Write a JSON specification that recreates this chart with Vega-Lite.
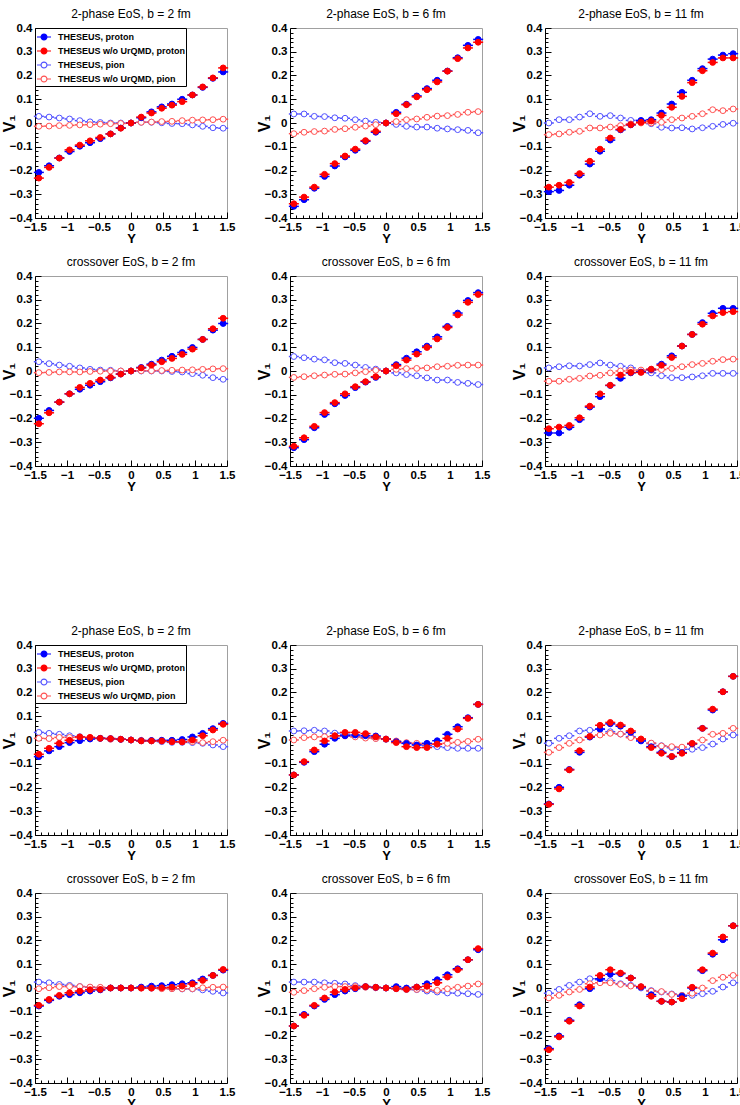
{
"$schema":"https://vega.github.io/schema/vega-lite/v6.json",
"padding":{"left":0,"top":7,"right":0,"bottom":0},
"columns":3,
"spacing":{"row":58,"column":63},
"bounds":"flush",
"resolve":{"legend":{"fill":"independent","stroke":"independent"}},
"config":{
 "font":"Liberation Sans",
 "view":{"stroke":"#a0a0a0"},
 "title":{"fontSize":12,"fontWeight":"normal","font":"Liberation Sans","color":"black","offset":1},
 "axis":{"grid":false,"labelFont":"Liberation Sans","labelFontWeight":"bold","labelFontSize":11.5,"labelColor":"black","domainColor":"black","tickColor":"black","titleFont":"Liberation Sans","titleFontWeight":"bold","titleColor":"black","labelFlush":false,"labelOverlap":false},
 "legend":{"offset":0,"padding":1,"labelFont":"Liberation Sans","labelFontWeight":"bold","labelFontSize":9,"labelColor":"black","strokeColor":"black","fillColor":"white","rowPadding":0,"labelOffset":6,"symbolStrokeWidth":1.2,"zindex":1}
},
"data":{"values":[
{"p":1,"x":-1.44,"bpr":-0.208,"rpr":-0.232,"bpi":0.028,"rpi":-0.014},
{"p":1,"x":-1.28,"bpr":-0.18,"rpr":-0.187,"bpi":0.025,"rpi":-0.013},
{"p":1,"x":-1.12,"bpr":-0.147,"rpr":-0.148,"bpi":0.021,"rpi":-0.011},
{"p":1,"x":-0.96,"bpr":-0.12,"rpr":-0.113,"bpi":0.017,"rpi":-0.01},
{"p":1,"x":-0.8,"bpr":-0.098,"rpr":-0.093,"bpi":0.01,"rpi":-0.008},
{"p":1,"x":-0.64,"bpr":-0.083,"rpr":-0.075,"bpi":0.005,"rpi":-0.007},
{"p":1,"x":-0.48,"bpr":-0.066,"rpr":-0.061,"bpi":0.002,"rpi":-0.005},
{"p":1,"x":-0.32,"bpr":-0.046,"rpr":-0.046,"bpi":0,"rpi":-0.003},
{"p":1,"x":-0.16,"bpr":-0.021,"rpr":-0.022,"bpi":0,"rpi":-0.002},
{"p":1,"x":0,"bpr":0,"rpr":0,"bpi":0,"rpi":0},
{"p":1,"x":0.16,"bpr":0.022,"rpr":0.025,"bpi":0.003,"rpi":0.003},
{"p":1,"x":0.32,"bpr":0.047,"rpr":0.042,"bpi":0.003,"rpi":0.004},
{"p":1,"x":0.48,"bpr":0.068,"rpr":0.062,"bpi":0.001,"rpi":0.006},
{"p":1,"x":0.64,"bpr":0.08,"rpr":0.075,"bpi":-0.002,"rpi":0.007},
{"p":1,"x":0.8,"bpr":0.1,"rpr":0.09,"bpi":-0.003,"rpi":0.01},
{"p":1,"x":0.96,"bpr":0.118,"rpr":0.118,"bpi":-0.008,"rpi":0.012},
{"p":1,"x":1.12,"bpr":0.15,"rpr":0.152,"bpi":-0.014,"rpi":0.013},
{"p":1,"x":1.28,"bpr":0.188,"rpr":0.19,"bpi":-0.02,"rpi":0.014},
{"p":1,"x":1.44,"bpr":0.215,"rpr":0.232,"bpi":-0.022,"rpi":0.016},
{"p":2,"x":-1.44,"bpr":-0.351,"rpr":-0.34,"bpi":0.038,"rpi":-0.045},
{"p":2,"x":-1.28,"bpr":-0.323,"rpr":-0.312,"bpi":0.038,"rpi":-0.039},
{"p":2,"x":-1.12,"bpr":-0.275,"rpr":-0.27,"bpi":0.028,"rpi":-0.036},
{"p":2,"x":-0.96,"bpr":-0.225,"rpr":-0.216,"bpi":0.027,"rpi":-0.034},
{"p":2,"x":-0.8,"bpr":-0.181,"rpr":-0.171,"bpi":0.022,"rpi":-0.027},
{"p":2,"x":-0.64,"bpr":-0.143,"rpr":-0.139,"bpi":0.02,"rpi":-0.024},
{"p":2,"x":-0.48,"bpr":-0.115,"rpr":-0.11,"bpi":0.014,"rpi":-0.018},
{"p":2,"x":-0.32,"bpr":-0.077,"rpr":-0.074,"bpi":0.008,"rpi":-0.013},
{"p":2,"x":-0.16,"bpr":-0.039,"rpr":-0.035,"bpi":0.003,"rpi":-0.007},
{"p":2,"x":0,"bpr":0,"rpr":0,"bpi":0,"rpi":0},
{"p":2,"x":0.16,"bpr":0.045,"rpr":0.039,"bpi":-0.006,"rpi":0.006},
{"p":2,"x":0.32,"bpr":0.079,"rpr":0.077,"bpi":-0.014,"rpi":0.014},
{"p":2,"x":0.48,"bpr":0.114,"rpr":0.11,"bpi":-0.017,"rpi":0.017},
{"p":2,"x":0.64,"bpr":0.145,"rpr":0.14,"bpi":-0.017,"rpi":0.024},
{"p":2,"x":0.8,"bpr":0.18,"rpr":0.173,"bpi":-0.022,"rpi":0.029},
{"p":2,"x":0.96,"bpr":0.219,"rpr":0.218,"bpi":-0.025,"rpi":0.031},
{"p":2,"x":1.12,"bpr":0.275,"rpr":0.271,"bpi":-0.028,"rpi":0.036},
{"p":2,"x":1.28,"bpr":0.327,"rpr":0.316,"bpi":-0.031,"rpi":0.045},
{"p":2,"x":1.44,"bpr":0.352,"rpr":0.34,"bpi":-0.041,"rpi":0.048},
{"p":3,"x":-1.44,"bpr":-0.289,"rpr":-0.27,"bpi":0,"rpi":-0.049},
{"p":3,"x":-1.28,"bpr":-0.284,"rpr":-0.262,"bpi":0.014,"rpi":-0.046},
{"p":3,"x":-1.12,"bpr":-0.262,"rpr":-0.25,"bpi":0.014,"rpi":-0.039},
{"p":3,"x":-0.96,"bpr":-0.22,"rpr":-0.213,"bpi":0.025,"rpi":-0.035},
{"p":3,"x":-0.8,"bpr":-0.173,"rpr":-0.161,"bpi":0.039,"rpi":-0.021},
{"p":3,"x":-0.64,"bpr":-0.119,"rpr":-0.11,"bpi":0.028,"rpi":-0.021},
{"p":3,"x":-0.48,"bpr":-0.072,"rpr":-0.063,"bpi":0.031,"rpi":-0.017},
{"p":3,"x":-0.32,"bpr":-0.029,"rpr":-0.027,"bpi":0.021,"rpi":-0.011},
{"p":3,"x":-0.16,"bpr":-0.008,"rpr":-0.007,"bpi":0.011,"rpi":-0.004},
{"p":3,"x":0,"bpr":0.011,"rpr":0.003,"bpi":0.007,"rpi":0},
{"p":3,"x":0.16,"bpr":0.014,"rpr":0.008,"bpi":-0.003,"rpi":0},
{"p":3,"x":0.32,"bpr":0.042,"rpr":0.032,"bpi":-0.018,"rpi":0.003},
{"p":3,"x":0.48,"bpr":0.08,"rpr":0.066,"bpi":-0.021,"rpi":0.014},
{"p":3,"x":0.64,"bpr":0.129,"rpr":0.112,"bpi":-0.02,"rpi":0.021},
{"p":3,"x":0.8,"bpr":0.18,"rpr":0.17,"bpi":-0.025,"rpi":0.028},
{"p":3,"x":0.96,"bpr":0.229,"rpr":0.22,"bpi":-0.02,"rpi":0.039},
{"p":3,"x":1.12,"bpr":0.269,"rpr":0.255,"bpi":-0.014,"rpi":0.056},
{"p":3,"x":1.28,"bpr":0.286,"rpr":0.274,"bpi":-0.006,"rpi":0.052},
{"p":3,"x":1.44,"bpr":0.292,"rpr":0.274,"bpi":-0.001,"rpi":0.059},
{"p":4,"x":-1.44,"bpr":-0.199,"rpr":-0.222,"bpi":0.039,"rpi":-0.007},
{"p":4,"x":-1.28,"bpr":-0.166,"rpr":-0.176,"bpi":0.031,"rpi":-0.006},
{"p":4,"x":-1.12,"bpr":-0.131,"rpr":-0.131,"bpi":0.025,"rpi":-0.004},
{"p":4,"x":-0.96,"bpr":-0.096,"rpr":-0.096,"bpi":0.02,"rpi":-0.004},
{"p":4,"x":-0.8,"bpr":-0.077,"rpr":-0.069,"bpi":0.013,"rpi":-0.004},
{"p":4,"x":-0.64,"bpr":-0.06,"rpr":-0.052,"bpi":0.007,"rpi":-0.002},
{"p":4,"x":-0.48,"bpr":-0.045,"rpr":-0.038,"bpi":0.004,"rpi":-0.001},
{"p":4,"x":-0.32,"bpr":-0.029,"rpr":-0.027,"bpi":0.003,"rpi":0},
{"p":4,"x":-0.16,"bpr":-0.013,"rpr":-0.013,"bpi":0,"rpi":0},
{"p":4,"x":0,"bpr":0,"rpr":0,"bpi":0,"rpi":0},
{"p":4,"x":0.16,"bpr":0.015,"rpr":0.013,"bpi":0,"rpi":0.001},
{"p":4,"x":0.32,"bpr":0.029,"rpr":0.025,"bpi":0,"rpi":0.001},
{"p":4,"x":0.48,"bpr":0.046,"rpr":0.039,"bpi":0,"rpi":0.002},
{"p":4,"x":0.64,"bpr":0.062,"rpr":0.053,"bpi":-0.002,"rpi":0.003},
{"p":4,"x":0.8,"bpr":0.078,"rpr":0.07,"bpi":-0.004,"rpi":0.004},
{"p":4,"x":0.96,"bpr":0.099,"rpr":0.092,"bpi":-0.011,"rpi":0.005},
{"p":4,"x":1.12,"bpr":0.133,"rpr":0.133,"bpi":-0.018,"rpi":0.007},
{"p":4,"x":1.28,"bpr":0.172,"rpr":0.178,"bpi":-0.028,"rpi":0.009},
{"p":4,"x":1.44,"bpr":0.2,"rpr":0.222,"bpi":-0.035,"rpi":0.01},
{"p":5,"x":-1.44,"bpr":-0.323,"rpr":-0.317,"bpi":0.061,"rpi":-0.027},
{"p":5,"x":-1.28,"bpr":-0.289,"rpr":-0.281,"bpi":0.056,"rpi":-0.024},
{"p":5,"x":-1.12,"bpr":-0.239,"rpr":-0.233,"bpi":0.05,"rpi":-0.02},
{"p":5,"x":-0.96,"bpr":-0.183,"rpr":-0.175,"bpi":0.047,"rpi":-0.017},
{"p":5,"x":-0.8,"bpr":-0.138,"rpr":-0.133,"bpi":0.035,"rpi":-0.014},
{"p":5,"x":-0.64,"bpr":-0.103,"rpr":-0.096,"bpi":0.032,"rpi":-0.013},
{"p":5,"x":-0.48,"bpr":-0.07,"rpr":-0.066,"bpi":0.025,"rpi":-0.008},
{"p":5,"x":-0.32,"bpr":-0.047,"rpr":-0.045,"bpi":0.015,"rpi":-0.003},
{"p":5,"x":-0.16,"bpr":-0.027,"rpr":-0.024,"bpi":0.008,"rpi":0.003},
{"p":5,"x":0,"bpr":0,"rpr":0,"bpi":0,"rpi":0},
{"p":5,"x":0.16,"bpr":0.027,"rpr":0.022,"bpi":-0.008,"rpi":0.007},
{"p":5,"x":0.32,"bpr":0.054,"rpr":0.046,"bpi":-0.015,"rpi":0.01},
{"p":5,"x":0.48,"bpr":0.081,"rpr":0.071,"bpi":-0.02,"rpi":0.011},
{"p":5,"x":0.64,"bpr":0.105,"rpr":0.099,"bpi":-0.029,"rpi":0.013},
{"p":5,"x":0.8,"bpr":0.144,"rpr":0.135,"bpi":-0.038,"rpi":0.018},
{"p":5,"x":0.96,"bpr":0.188,"rpr":0.183,"bpi":-0.038,"rpi":0.02},
{"p":5,"x":1.12,"bpr":0.244,"rpr":0.236,"bpi":-0.048,"rpi":0.024},
{"p":5,"x":1.28,"bpr":0.297,"rpr":0.289,"bpi":-0.052,"rpi":0.025},
{"p":5,"x":1.44,"bpr":0.33,"rpr":0.322,"bpi":-0.057,"rpi":0.025},
{"p":6,"x":-1.44,"bpr":-0.261,"rpr":-0.243,"bpi":0.013,"rpi":-0.043},
{"p":6,"x":-1.28,"bpr":-0.261,"rpr":-0.236,"bpi":0.018,"rpi":-0.043},
{"p":6,"x":-1.12,"bpr":-0.237,"rpr":-0.229,"bpi":0.022,"rpi":-0.035},
{"p":6,"x":-0.96,"bpr":-0.205,"rpr":-0.197,"bpi":0.021,"rpi":-0.031},
{"p":6,"x":-0.8,"bpr":-0.152,"rpr":-0.148,"bpi":0.027,"rpi":-0.021},
{"p":6,"x":-0.64,"bpr":-0.108,"rpr":-0.096,"bpi":0.034,"rpi":-0.018},
{"p":6,"x":-0.48,"bpr":-0.061,"rpr":-0.06,"bpi":0.025,"rpi":-0.008},
{"p":6,"x":-0.32,"bpr":-0.031,"rpr":-0.017,"bpi":0.02,"rpi":0},
{"p":6,"x":-0.16,"bpr":-0.008,"rpr":-0.006,"bpi":0.013,"rpi":0.004},
{"p":6,"x":0,"bpr":-0.004,"rpr":-0.006,"bpi":-0.001,"rpi":0.004},
{"p":6,"x":0.16,"bpr":0.006,"rpr":0.008,"bpi":-0.008,"rpi":0.003},
{"p":6,"x":0.32,"bpr":0.029,"rpr":0.024,"bpi":-0.02,"rpi":0.006},
{"p":6,"x":0.48,"bpr":0.064,"rpr":0.057,"bpi":-0.028,"rpi":0.011},
{"p":6,"x":0.64,"bpr":0.105,"rpr":0.105,"bpi":-0.028,"rpi":0.018},
{"p":6,"x":0.8,"bpr":0.154,"rpr":0.154,"bpi":-0.025,"rpi":0.027},
{"p":6,"x":0.96,"bpr":0.204,"rpr":0.197,"bpi":-0.02,"rpi":0.032},
{"p":6,"x":1.12,"bpr":0.243,"rpr":0.232,"bpi":-0.01,"rpi":0.041},
{"p":6,"x":1.28,"bpr":0.264,"rpr":0.246,"bpi":-0.01,"rpi":0.048},
{"p":6,"x":1.44,"bpr":0.264,"rpr":0.25,"bpi":-0.01,"rpi":0.05},
{"p":7,"x":-1.44,"bpr":-0.07,"rpr":-0.06,"bpi":0.032,"rpi":0.007},
{"p":7,"x":-1.28,"bpr":-0.046,"rpr":-0.035,"bpi":0.028,"rpi":0.006},
{"p":7,"x":-1.12,"bpr":-0.028,"rpr":-0.014,"bpi":0.024,"rpi":0.011},
{"p":7,"x":-0.96,"bpr":-0.011,"rpr":-0.001,"bpi":0.018,"rpi":0.011},
{"p":7,"x":-0.8,"bpr":-0.003,"rpr":0.013,"bpi":0.014,"rpi":0.011},
{"p":7,"x":-0.64,"bpr":0.004,"rpr":0.011,"bpi":0.008,"rpi":0.01},
{"p":7,"x":-0.48,"bpr":0.007,"rpr":0.007,"bpi":0.007,"rpi":0.007},
{"p":7,"x":-0.32,"bpr":0.006,"rpr":0.006,"bpi":0.004,"rpi":0.003},
{"p":7,"x":-0.16,"bpr":0.003,"rpr":0.003,"bpi":0.003,"rpi":0.003},
{"p":7,"x":0,"bpr":0,"rpr":0,"bpi":0,"rpi":0},
{"p":7,"x":0.16,"bpr":-0.003,"rpr":-0.004,"bpi":-0.003,"rpi":-0.001},
{"p":7,"x":0.32,"bpr":-0.002,"rpr":-0.004,"bpi":-0.004,"rpi":-0.003},
{"p":7,"x":0.48,"bpr":-0.001,"rpr":-0.004,"bpi":-0.007,"rpi":-0.004},
{"p":7,"x":0.64,"bpr":-0.001,"rpr":-0.007,"bpi":-0.01,"rpi":-0.007},
{"p":7,"x":0.8,"bpr":0.002,"rpr":-0.008,"bpi":-0.01,"rpi":-0.007},
{"p":7,"x":0.96,"bpr":0.013,"rpr":0,"bpi":-0.011,"rpi":-0.007},
{"p":7,"x":1.12,"bpr":0.028,"rpr":0.018,"bpi":-0.014,"rpi":-0.011},
{"p":7,"x":1.28,"bpr":0.048,"rpr":0.042,"bpi":-0.021,"rpi":-0.007},
{"p":7,"x":1.44,"bpr":0.07,"rpr":0.066,"bpi":-0.028,"rpi":-0.001},
{"p":8,"x":-1.44,"bpr":-0.147,"rpr":-0.147,"bpi":0.038,"rpi":0},
{"p":8,"x":-1.28,"bpr":-0.094,"rpr":-0.091,"bpi":0.039,"rpi":0.01},
{"p":8,"x":-1.12,"bpr":-0.049,"rpr":-0.042,"bpi":0.041,"rpi":0.013},
{"p":8,"x":-0.96,"bpr":-0.018,"rpr":-0.004,"bpi":0.038,"rpi":0.014},
{"p":8,"x":-0.8,"bpr":0.007,"rpr":0.018,"bpi":0.029,"rpi":0.017},
{"p":8,"x":-0.64,"bpr":0.018,"rpr":0.032,"bpi":0.024,"rpi":0.017},
{"p":8,"x":-0.48,"bpr":0.021,"rpr":0.032,"bpi":0.015,"rpi":0.013},
{"p":8,"x":-0.32,"bpr":0.018,"rpr":0.027,"bpi":0.011,"rpi":0.008},
{"p":8,"x":-0.16,"bpr":0.017,"rpr":0.013,"bpi":0.007,"rpi":0.006},
{"p":8,"x":0,"bpr":0.004,"rpr":0.004,"bpi":0.003,"rpi":0.003},
{"p":8,"x":0.16,"bpr":-0.007,"rpr":-0.011,"bpi":-0.007,"rpi":-0.004},
{"p":8,"x":0.32,"bpr":-0.014,"rpr":-0.028,"bpi":-0.014,"rpi":-0.011},
{"p":8,"x":0.48,"bpr":-0.021,"rpr":-0.032,"bpi":-0.018,"rpi":-0.014},
{"p":8,"x":0.64,"bpr":-0.014,"rpr":-0.032,"bpi":-0.024,"rpi":-0.017},
{"p":8,"x":0.8,"bpr":-0.003,"rpr":-0.017,"bpi":-0.028,"rpi":-0.018},
{"p":8,"x":0.96,"bpr":0.024,"rpr":0.007,"bpi":-0.032,"rpi":-0.014},
{"p":8,"x":1.12,"bpr":0.056,"rpr":0.046,"bpi":-0.035,"rpi":-0.01},
{"p":8,"x":1.28,"bpr":0.094,"rpr":0.091,"bpi":-0.035,"rpi":-0.006},
{"p":8,"x":1.44,"bpr":0.15,"rpr":0.15,"bpi":-0.035,"rpi":0.003},
{"p":9,"x":-1.44,"bpr":-0.269,"rpr":-0.271,"bpi":-0.014,"rpi":-0.052},
{"p":9,"x":-1.28,"bpr":-0.199,"rpr":-0.206,"bpi":0.007,"rpi":-0.032},
{"p":9,"x":-1.12,"bpr":-0.124,"rpr":-0.126,"bpi":0.018,"rpi":-0.014},
{"p":9,"x":-0.96,"bpr":-0.052,"rpr":-0.045,"bpi":0.038,"rpi":0},
{"p":9,"x":-0.8,"bpr":0.012,"rpr":0.015,"bpi":0.041,"rpi":0.014},
{"p":9,"x":-0.64,"bpr":0.046,"rpr":0.062,"bpi":0.045,"rpi":0.021},
{"p":9,"x":-0.48,"bpr":0.068,"rpr":0.074,"bpi":0.035,"rpi":0.028},
{"p":9,"x":-0.32,"bpr":0.058,"rpr":0.063,"bpi":0.025,"rpi":0.025},
{"p":9,"x":-0.16,"bpr":0.032,"rpr":0.038,"bpi":0.014,"rpi":0.01},
{"p":9,"x":0,"bpr":-0.004,"rpr":0.004,"bpi":0,"rpi":0.004},
{"p":9,"x":0.16,"bpr":-0.028,"rpr":-0.032,"bpi":-0.015,"rpi":-0.013},
{"p":9,"x":0.32,"bpr":-0.052,"rpr":-0.056,"bpi":-0.024,"rpi":-0.025},
{"p":9,"x":0.48,"bpr":-0.07,"rpr":-0.069,"bpi":-0.032,"rpi":-0.028},
{"p":9,"x":0.64,"bpr":-0.053,"rpr":-0.056,"bpi":-0.039,"rpi":-0.03},
{"p":9,"x":0.8,"bpr":-0.016,"rpr":-0.014,"bpi":-0.039,"rpi":-0.018},
{"p":9,"x":0.96,"bpr":0.049,"rpr":0.049,"bpi":-0.032,"rpi":0},
{"p":9,"x":1.12,"bpr":0.126,"rpr":0.13,"bpi":-0.017,"rpi":0.024},
{"p":9,"x":1.28,"bpr":0.203,"rpr":0.203,"bpi":0.004,"rpi":0.028},
{"p":9,"x":1.44,"bpr":0.268,"rpr":0.268,"bpi":0.021,"rpi":0.049},
{"p":10,"x":-1.44,"bpr":-0.076,"rpr":-0.073,"bpi":0.025,"rpi":-0.003},
{"p":10,"x":-1.28,"bpr":-0.052,"rpr":-0.048,"bpi":0.022,"rpi":0.001},
{"p":10,"x":-1.12,"bpr":-0.035,"rpr":-0.031,"bpi":0.015,"rpi":0.006},
{"p":10,"x":-0.96,"bpr":-0.028,"rpr":-0.02,"bpi":0.011,"rpi":0.006},
{"p":10,"x":-0.8,"bpr":-0.02,"rpr":-0.013,"bpi":0.006,"rpi":0.006},
{"p":10,"x":-0.64,"bpr":-0.013,"rpr":-0.007,"bpi":0.003,"rpi":0.004},
{"p":10,"x":-0.48,"bpr":-0.008,"rpr":-0.006,"bpi":0.001,"rpi":0.003},
{"p":10,"x":-0.32,"bpr":0,"rpr":0,"bpi":0,"rpi":0},
{"p":10,"x":-0.16,"bpr":0,"rpr":0,"bpi":0,"rpi":0},
{"p":10,"x":0,"bpr":0,"rpr":0,"bpi":0,"rpi":0},
{"p":10,"x":0.16,"bpr":0.004,"rpr":0,"bpi":0,"rpi":-0.001},
{"p":10,"x":0.32,"bpr":0.008,"rpr":0,"bpi":-0.001,"rpi":-0.001},
{"p":10,"x":0.48,"bpr":0.01,"rpr":0.001,"bpi":-0.001,"rpi":-0.003},
{"p":10,"x":0.64,"bpr":0.014,"rpr":0.003,"bpi":-0.003,"rpi":-0.003},
{"p":10,"x":0.8,"bpr":0.018,"rpr":0.008,"bpi":-0.004,"rpi":-0.003},
{"p":10,"x":0.96,"bpr":0.022,"rpr":0.017,"bpi":-0.004,"rpi":-0.003},
{"p":10,"x":1.12,"bpr":0.038,"rpr":0.032,"bpi":-0.008,"rpi":0.001},
{"p":10,"x":1.28,"bpr":0.053,"rpr":0.053,"bpi":-0.014,"rpi":0.003},
{"p":10,"x":1.44,"bpr":0.075,"rpr":0.078,"bpi":-0.021,"rpi":0.004},
{"p":11,"x":-1.44,"bpr":-0.16,"rpr":-0.16,"bpi":0.025,"rpi":-0.018},
{"p":11,"x":-1.28,"bpr":-0.111,"rpr":-0.115,"bpi":0.025,"rpi":-0.011},
{"p":11,"x":-1.12,"bpr":-0.076,"rpr":-0.073,"bpi":0.025,"rpi":-0.003},
{"p":11,"x":-0.96,"bpr":-0.048,"rpr":-0.042,"bpi":0.022,"rpi":0.003},
{"p":11,"x":-0.8,"bpr":-0.028,"rpr":-0.017,"bpi":0.02,"rpi":0.006},
{"p":11,"x":-0.64,"bpr":-0.013,"rpr":-0.006,"bpi":0.017,"rpi":0.006},
{"p":11,"x":-0.48,"bpr":-0.003,"rpr":0,"bpi":0.01,"rpi":0.006},
{"p":11,"x":-0.32,"bpr":0.006,"rpr":0.006,"bpi":0.004,"rpi":0.003},
{"p":11,"x":-0.16,"bpr":0.003,"rpr":0.003,"bpi":0.001,"rpi":0.001},
{"p":11,"x":0,"bpr":0,"rpr":0,"bpi":0,"rpi":0},
{"p":11,"x":0.16,"bpr":0.006,"rpr":-0.003,"bpi":-0.003,"rpi":-0.001},
{"p":11,"x":0.32,"bpr":0,"rpr":-0.006,"bpi":-0.006,"rpi":-0.003},
{"p":11,"x":0.48,"bpr":0.004,"rpr":0.004,"bpi":-0.007,"rpi":-0.006},
{"p":11,"x":0.64,"bpr":0.018,"rpr":0.007,"bpi":-0.013,"rpi":-0.007},
{"p":11,"x":0.8,"bpr":0.035,"rpr":0.022,"bpi":-0.017,"rpi":-0.01},
{"p":11,"x":0.96,"bpr":0.056,"rpr":0.046,"bpi":-0.021,"rpi":-0.003},
{"p":11,"x":1.12,"bpr":0.081,"rpr":0.077,"bpi":-0.022,"rpi":0.003},
{"p":11,"x":1.28,"bpr":0.119,"rpr":0.119,"bpi":-0.024,"rpi":0.008},
{"p":11,"x":1.44,"bpr":0.161,"rpr":0.166,"bpi":-0.027,"rpi":0.017},
{"p":12,"x":-1.44,"bpr":-0.255,"rpr":-0.26,"bpi":-0.022,"rpi":-0.042},
{"p":12,"x":-1.28,"bpr":-0.202,"rpr":-0.206,"bpi":-0.006,"rpi":-0.031},
{"p":12,"x":-1.12,"bpr":-0.136,"rpr":-0.14,"bpi":0.011,"rpi":-0.017},
{"p":12,"x":-0.96,"bpr":-0.07,"rpr":-0.076,"bpi":0.025,"rpi":-0.006},
{"p":12,"x":-0.8,"bpr":-0.003,"rpr":0.004,"bpi":0.039,"rpi":0.018},
{"p":12,"x":-0.64,"bpr":0.039,"rpr":0.053,"bpi":0.035,"rpi":0.022},
{"p":12,"x":-0.48,"bpr":0.058,"rpr":0.077,"bpi":0.031,"rpi":0.022},
{"p":12,"x":-0.32,"bpr":0.06,"rpr":0.063,"bpi":0.018,"rpi":0.015},
{"p":12,"x":-0.16,"bpr":0.042,"rpr":0.042,"bpi":0.011,"rpi":0.008},
{"p":12,"x":0,"bpr":0.004,"rpr":0.006,"bpi":0,"rpi":0.004},
{"p":12,"x":0.16,"bpr":-0.028,"rpr":-0.035,"bpi":-0.011,"rpi":-0.013},
{"p":12,"x":0.32,"bpr":-0.056,"rpr":-0.056,"bpi":-0.017,"rpi":-0.015},
{"p":12,"x":0.48,"bpr":-0.059,"rpr":-0.059,"bpi":-0.025,"rpi":-0.027},
{"p":12,"x":0.64,"bpr":-0.034,"rpr":-0.045,"bpi":-0.031,"rpi":-0.031},
{"p":12,"x":0.8,"bpr":0,"rpr":0.003,"bpi":-0.031,"rpi":-0.022},
{"p":12,"x":0.96,"bpr":0.073,"rpr":0.077,"bpi":-0.024,"rpi":0},
{"p":12,"x":1.12,"bpr":0.142,"rpr":0.147,"bpi":-0.014,"rpi":0.031},
{"p":12,"x":1.28,"bpr":0.203,"rpr":0.215,"bpi":0.004,"rpi":0.045},
{"p":12,"x":1.44,"bpr":0.262,"rpr":0.262,"bpi":0.022,"rpi":0.053}
]},
"concat":[
{"title":"2-phase EoS, b = 2 fm","width":192,"height":190,"transform":[{"filter":"datum.p==1"},{"fold":["bpi","rpi","bpr","rpr"],"as":["s","v"]}],"layer":[
 {"mark":{"type":"tick","orient":"horizontal","size":10,"thickness":1.5,"opacity":1},"encoding":{
  "x":{"field":"x","type":"quantitative","scale":{"domain":[-1.5,1.5],"nice":false,"zero":false},"axis":{"orient":"bottom","values":[-1.5,-1,-0.5,0,0.5,1,1.5],"format":"~g","ticks":false,"labelPadding":3,"title":"Y","titleFontSize":13,"titlePadding":0}},
  "y":{"field":"v","type":"quantitative","scale":{"domain":[-0.4,0.4],"nice":false,"zero":false},"axis":{"orient":"left","values":[-0.4,-0.3,-0.2,-0.1,0,0.1,0.2,0.3,0.4],"format":"~g","ticks":false,"labelPadding":3,"title":"V₁","titleFontSize":16,"titlePadding":-8}},
  "color":{"field":"s","type":"nominal","scale":{"domain":["bpr","rpr","bpi","rpi"],"range":["#0000ff","#ff0000","#5050ff","#ff5050"]},"legend":null}}},
 {"mark":{"type":"point","shape":"circle","size":34,"strokeWidth":1,"opacity":1},"encoding":{
  "x":{"field":"x","type":"quantitative","axis":{"orient":"top","offset":-190,"values":[-1.5,-1.4,-1.3,-1.2,-1.1,-1,-0.9,-0.8,-0.7,-0.6,-0.5,-0.4,-0.3,-0.2,-0.1,0,0.1,0.2,0.3,0.4,0.5,0.6,0.7,0.8,0.9,1,1.1,1.2,1.3,1.4,1.5],"labels":false,"domain":false,"title":null,"tickSize":{"condition":{"test":"abs(datum.value*2-round(datum.value*2))<0.001","value":6},"value":3}}},
  "y":{"field":"v","type":"quantitative","axis":{"orient":"right","offset":-192,"values":[-0.4,-0.38,-0.36,-0.34,-0.32,-0.3,-0.28,-0.26,-0.24,-0.22,-0.2,-0.18,-0.16,-0.14,-0.12,-0.1,-0.08,-0.06,-0.04,-0.02,0,0.02,0.04,0.06,0.08,0.1,0.12,0.14,0.16,0.18,0.2,0.22,0.24,0.26,0.28,0.3,0.32,0.34,0.36,0.38,0.4],"labels":false,"domain":false,"title":null,"tickSize":{"condition":{"test":"abs(datum.value*10-round(datum.value*10))<0.001","value":6},"value":3}}},
  "fill":{"field":"s","type":"nominal","scale":{"domain":["bpr","rpr","bpi","rpi"],"range":["#0000ff","#ff0000","white","white"]},"legend":{"orient":"top-left","title":null,"symbolType":"M-1,0L-0.42,0M0.42,0L1,0M-0.42,0A0.42,0.42,0,1,1,0.42,0A0.42,0.42,0,1,1,-0.42,0","symbolSize":196,"labelExpr":"datum.label=='bpr'?'THESEUS, proton':datum.label=='rpr'?'THESEUS w/o UrQMD, proton':datum.label=='bpi'?'THESEUS, pion':'THESEUS w/o UrQMD, pion'"}},
  "stroke":{"field":"s","type":"nominal","scale":{"domain":["bpr","rpr","bpi","rpi"],"range":["#0000ff","#ff0000","#5050ff","#ff5050"]},"legend":{"orient":"top-left","title":null,"symbolType":"M-1,0L-0.42,0M0.42,0L1,0M-0.42,0A0.42,0.42,0,1,1,0.42,0A0.42,0.42,0,1,1,-0.42,0","symbolSize":196,"labelExpr":"datum.label=='bpr'?'THESEUS, proton':datum.label=='rpr'?'THESEUS w/o UrQMD, proton':datum.label=='bpi'?'THESEUS, pion':'THESEUS w/o UrQMD, pion'"}}}}
 ],"resolve":{"axis":{"x":"independent","y":"independent"}}},
{"title":"2-phase EoS, b = 6 fm","width":192,"height":190,"transform":[{"filter":"datum.p==2"},{"fold":["bpi","rpi","bpr","rpr"],"as":["s","v"]}],"layer":[
 {"mark":{"type":"tick","orient":"horizontal","size":10,"thickness":1.5,"opacity":1},"encoding":{
  "x":{"field":"x","type":"quantitative","scale":{"domain":[-1.5,1.5],"nice":false,"zero":false},"axis":{"orient":"bottom","values":[-1.5,-1,-0.5,0,0.5,1,1.5],"format":"~g","ticks":false,"labelPadding":3,"title":"Y","titleFontSize":13,"titlePadding":0}},
  "y":{"field":"v","type":"quantitative","scale":{"domain":[-0.4,0.4],"nice":false,"zero":false},"axis":{"orient":"left","values":[-0.4,-0.3,-0.2,-0.1,0,0.1,0.2,0.3,0.4],"format":"~g","ticks":false,"labelPadding":3,"title":"V₁","titleFontSize":16,"titlePadding":-8}},
  "color":{"field":"s","type":"nominal","scale":{"domain":["bpr","rpr","bpi","rpi"],"range":["#0000ff","#ff0000","#5050ff","#ff5050"]},"legend":null}}},
 {"mark":{"type":"point","shape":"circle","size":34,"strokeWidth":1,"opacity":1},"encoding":{
  "x":{"field":"x","type":"quantitative","axis":{"orient":"top","offset":-190,"values":[-1.5,-1.4,-1.3,-1.2,-1.1,-1,-0.9,-0.8,-0.7,-0.6,-0.5,-0.4,-0.3,-0.2,-0.1,0,0.1,0.2,0.3,0.4,0.5,0.6,0.7,0.8,0.9,1,1.1,1.2,1.3,1.4,1.5],"labels":false,"domain":false,"title":null,"tickSize":{"condition":{"test":"abs(datum.value*2-round(datum.value*2))<0.001","value":6},"value":3}}},
  "y":{"field":"v","type":"quantitative","axis":{"orient":"right","offset":-192,"values":[-0.4,-0.38,-0.36,-0.34,-0.32,-0.3,-0.28,-0.26,-0.24,-0.22,-0.2,-0.18,-0.16,-0.14,-0.12,-0.1,-0.08,-0.06,-0.04,-0.02,0,0.02,0.04,0.06,0.08,0.1,0.12,0.14,0.16,0.18,0.2,0.22,0.24,0.26,0.28,0.3,0.32,0.34,0.36,0.38,0.4],"labels":false,"domain":false,"title":null,"tickSize":{"condition":{"test":"abs(datum.value*10-round(datum.value*10))<0.001","value":6},"value":3}}},
  "fill":{"field":"s","type":"nominal","scale":{"domain":["bpr","rpr","bpi","rpi"],"range":["#0000ff","#ff0000","white","white"]},"legend":null},
  "stroke":{"field":"s","type":"nominal","scale":{"domain":["bpr","rpr","bpi","rpi"],"range":["#0000ff","#ff0000","#5050ff","#ff5050"]},"legend":null}}}
 ],"resolve":{"axis":{"x":"independent","y":"independent"}}},
{"title":"2-phase EoS, b = 11 fm","width":192,"height":190,"transform":[{"filter":"datum.p==3"},{"fold":["bpi","rpi","bpr","rpr"],"as":["s","v"]}],"layer":[
 {"mark":{"type":"tick","orient":"horizontal","size":10,"thickness":1.5,"opacity":1},"encoding":{
  "x":{"field":"x","type":"quantitative","scale":{"domain":[-1.5,1.5],"nice":false,"zero":false},"axis":{"orient":"bottom","values":[-1.5,-1,-0.5,0,0.5,1,1.5],"format":"~g","ticks":false,"labelPadding":3,"title":"Y","titleFontSize":13,"titlePadding":0}},
  "y":{"field":"v","type":"quantitative","scale":{"domain":[-0.4,0.4],"nice":false,"zero":false},"axis":{"orient":"left","values":[-0.4,-0.3,-0.2,-0.1,0,0.1,0.2,0.3,0.4],"format":"~g","ticks":false,"labelPadding":3,"title":"V₁","titleFontSize":16,"titlePadding":-8}},
  "color":{"field":"s","type":"nominal","scale":{"domain":["bpr","rpr","bpi","rpi"],"range":["#0000ff","#ff0000","#5050ff","#ff5050"]},"legend":null}}},
 {"mark":{"type":"point","shape":"circle","size":34,"strokeWidth":1,"opacity":1},"encoding":{
  "x":{"field":"x","type":"quantitative","axis":{"orient":"top","offset":-190,"values":[-1.5,-1.4,-1.3,-1.2,-1.1,-1,-0.9,-0.8,-0.7,-0.6,-0.5,-0.4,-0.3,-0.2,-0.1,0,0.1,0.2,0.3,0.4,0.5,0.6,0.7,0.8,0.9,1,1.1,1.2,1.3,1.4,1.5],"labels":false,"domain":false,"title":null,"tickSize":{"condition":{"test":"abs(datum.value*2-round(datum.value*2))<0.001","value":6},"value":3}}},
  "y":{"field":"v","type":"quantitative","axis":{"orient":"right","offset":-192,"values":[-0.4,-0.38,-0.36,-0.34,-0.32,-0.3,-0.28,-0.26,-0.24,-0.22,-0.2,-0.18,-0.16,-0.14,-0.12,-0.1,-0.08,-0.06,-0.04,-0.02,0,0.02,0.04,0.06,0.08,0.1,0.12,0.14,0.16,0.18,0.2,0.22,0.24,0.26,0.28,0.3,0.32,0.34,0.36,0.38,0.4],"labels":false,"domain":false,"title":null,"tickSize":{"condition":{"test":"abs(datum.value*10-round(datum.value*10))<0.001","value":6},"value":3}}},
  "fill":{"field":"s","type":"nominal","scale":{"domain":["bpr","rpr","bpi","rpi"],"range":["#0000ff","#ff0000","white","white"]},"legend":null},
  "stroke":{"field":"s","type":"nominal","scale":{"domain":["bpr","rpr","bpi","rpi"],"range":["#0000ff","#ff0000","#5050ff","#ff5050"]},"legend":null}}}
 ],"resolve":{"axis":{"x":"independent","y":"independent"}}},
{"title":"crossover EoS, b = 2 fm","width":192,"height":190,"transform":[{"filter":"datum.p==4"},{"fold":["bpi","rpi","bpr","rpr"],"as":["s","v"]}],"layer":[
 {"mark":{"type":"tick","orient":"horizontal","size":10,"thickness":1.5,"opacity":1},"encoding":{
  "x":{"field":"x","type":"quantitative","scale":{"domain":[-1.5,1.5],"nice":false,"zero":false},"axis":{"orient":"bottom","values":[-1.5,-1,-0.5,0,0.5,1,1.5],"format":"~g","ticks":false,"labelPadding":3,"title":"Y","titleFontSize":13,"titlePadding":0}},
  "y":{"field":"v","type":"quantitative","scale":{"domain":[-0.4,0.4],"nice":false,"zero":false},"axis":{"orient":"left","values":[-0.4,-0.3,-0.2,-0.1,0,0.1,0.2,0.3,0.4],"format":"~g","ticks":false,"labelPadding":3,"title":"V₁","titleFontSize":16,"titlePadding":-8}},
  "color":{"field":"s","type":"nominal","scale":{"domain":["bpr","rpr","bpi","rpi"],"range":["#0000ff","#ff0000","#5050ff","#ff5050"]},"legend":null}}},
 {"mark":{"type":"point","shape":"circle","size":34,"strokeWidth":1,"opacity":1},"encoding":{
  "x":{"field":"x","type":"quantitative","axis":{"orient":"top","offset":-190,"values":[-1.5,-1.4,-1.3,-1.2,-1.1,-1,-0.9,-0.8,-0.7,-0.6,-0.5,-0.4,-0.3,-0.2,-0.1,0,0.1,0.2,0.3,0.4,0.5,0.6,0.7,0.8,0.9,1,1.1,1.2,1.3,1.4,1.5],"labels":false,"domain":false,"title":null,"tickSize":{"condition":{"test":"abs(datum.value*2-round(datum.value*2))<0.001","value":6},"value":3}}},
  "y":{"field":"v","type":"quantitative","axis":{"orient":"right","offset":-192,"values":[-0.4,-0.38,-0.36,-0.34,-0.32,-0.3,-0.28,-0.26,-0.24,-0.22,-0.2,-0.18,-0.16,-0.14,-0.12,-0.1,-0.08,-0.06,-0.04,-0.02,0,0.02,0.04,0.06,0.08,0.1,0.12,0.14,0.16,0.18,0.2,0.22,0.24,0.26,0.28,0.3,0.32,0.34,0.36,0.38,0.4],"labels":false,"domain":false,"title":null,"tickSize":{"condition":{"test":"abs(datum.value*10-round(datum.value*10))<0.001","value":6},"value":3}}},
  "fill":{"field":"s","type":"nominal","scale":{"domain":["bpr","rpr","bpi","rpi"],"range":["#0000ff","#ff0000","white","white"]},"legend":null},
  "stroke":{"field":"s","type":"nominal","scale":{"domain":["bpr","rpr","bpi","rpi"],"range":["#0000ff","#ff0000","#5050ff","#ff5050"]},"legend":null}}}
 ],"resolve":{"axis":{"x":"independent","y":"independent"}}},
{"title":"crossover EoS, b = 6 fm","width":192,"height":190,"transform":[{"filter":"datum.p==5"},{"fold":["bpi","rpi","bpr","rpr"],"as":["s","v"]}],"layer":[
 {"mark":{"type":"tick","orient":"horizontal","size":10,"thickness":1.5,"opacity":1},"encoding":{
  "x":{"field":"x","type":"quantitative","scale":{"domain":[-1.5,1.5],"nice":false,"zero":false},"axis":{"orient":"bottom","values":[-1.5,-1,-0.5,0,0.5,1,1.5],"format":"~g","ticks":false,"labelPadding":3,"title":"Y","titleFontSize":13,"titlePadding":0}},
  "y":{"field":"v","type":"quantitative","scale":{"domain":[-0.4,0.4],"nice":false,"zero":false},"axis":{"orient":"left","values":[-0.4,-0.3,-0.2,-0.1,0,0.1,0.2,0.3,0.4],"format":"~g","ticks":false,"labelPadding":3,"title":"V₁","titleFontSize":16,"titlePadding":-8}},
  "color":{"field":"s","type":"nominal","scale":{"domain":["bpr","rpr","bpi","rpi"],"range":["#0000ff","#ff0000","#5050ff","#ff5050"]},"legend":null}}},
 {"mark":{"type":"point","shape":"circle","size":34,"strokeWidth":1,"opacity":1},"encoding":{
  "x":{"field":"x","type":"quantitative","axis":{"orient":"top","offset":-190,"values":[-1.5,-1.4,-1.3,-1.2,-1.1,-1,-0.9,-0.8,-0.7,-0.6,-0.5,-0.4,-0.3,-0.2,-0.1,0,0.1,0.2,0.3,0.4,0.5,0.6,0.7,0.8,0.9,1,1.1,1.2,1.3,1.4,1.5],"labels":false,"domain":false,"title":null,"tickSize":{"condition":{"test":"abs(datum.value*2-round(datum.value*2))<0.001","value":6},"value":3}}},
  "y":{"field":"v","type":"quantitative","axis":{"orient":"right","offset":-192,"values":[-0.4,-0.38,-0.36,-0.34,-0.32,-0.3,-0.28,-0.26,-0.24,-0.22,-0.2,-0.18,-0.16,-0.14,-0.12,-0.1,-0.08,-0.06,-0.04,-0.02,0,0.02,0.04,0.06,0.08,0.1,0.12,0.14,0.16,0.18,0.2,0.22,0.24,0.26,0.28,0.3,0.32,0.34,0.36,0.38,0.4],"labels":false,"domain":false,"title":null,"tickSize":{"condition":{"test":"abs(datum.value*10-round(datum.value*10))<0.001","value":6},"value":3}}},
  "fill":{"field":"s","type":"nominal","scale":{"domain":["bpr","rpr","bpi","rpi"],"range":["#0000ff","#ff0000","white","white"]},"legend":null},
  "stroke":{"field":"s","type":"nominal","scale":{"domain":["bpr","rpr","bpi","rpi"],"range":["#0000ff","#ff0000","#5050ff","#ff5050"]},"legend":null}}}
 ],"resolve":{"axis":{"x":"independent","y":"independent"}}},
{"title":"crossover EoS, b = 11 fm","width":192,"height":190,"transform":[{"filter":"datum.p==6"},{"fold":["bpi","rpi","bpr","rpr"],"as":["s","v"]}],"layer":[
 {"mark":{"type":"tick","orient":"horizontal","size":10,"thickness":1.5,"opacity":1},"encoding":{
  "x":{"field":"x","type":"quantitative","scale":{"domain":[-1.5,1.5],"nice":false,"zero":false},"axis":{"orient":"bottom","values":[-1.5,-1,-0.5,0,0.5,1,1.5],"format":"~g","ticks":false,"labelPadding":3,"title":"Y","titleFontSize":13,"titlePadding":0}},
  "y":{"field":"v","type":"quantitative","scale":{"domain":[-0.4,0.4],"nice":false,"zero":false},"axis":{"orient":"left","values":[-0.4,-0.3,-0.2,-0.1,0,0.1,0.2,0.3,0.4],"format":"~g","ticks":false,"labelPadding":3,"title":"V₁","titleFontSize":16,"titlePadding":-8}},
  "color":{"field":"s","type":"nominal","scale":{"domain":["bpr","rpr","bpi","rpi"],"range":["#0000ff","#ff0000","#5050ff","#ff5050"]},"legend":null}}},
 {"mark":{"type":"point","shape":"circle","size":34,"strokeWidth":1,"opacity":1},"encoding":{
  "x":{"field":"x","type":"quantitative","axis":{"orient":"top","offset":-190,"values":[-1.5,-1.4,-1.3,-1.2,-1.1,-1,-0.9,-0.8,-0.7,-0.6,-0.5,-0.4,-0.3,-0.2,-0.1,0,0.1,0.2,0.3,0.4,0.5,0.6,0.7,0.8,0.9,1,1.1,1.2,1.3,1.4,1.5],"labels":false,"domain":false,"title":null,"tickSize":{"condition":{"test":"abs(datum.value*2-round(datum.value*2))<0.001","value":6},"value":3}}},
  "y":{"field":"v","type":"quantitative","axis":{"orient":"right","offset":-192,"values":[-0.4,-0.38,-0.36,-0.34,-0.32,-0.3,-0.28,-0.26,-0.24,-0.22,-0.2,-0.18,-0.16,-0.14,-0.12,-0.1,-0.08,-0.06,-0.04,-0.02,0,0.02,0.04,0.06,0.08,0.1,0.12,0.14,0.16,0.18,0.2,0.22,0.24,0.26,0.28,0.3,0.32,0.34,0.36,0.38,0.4],"labels":false,"domain":false,"title":null,"tickSize":{"condition":{"test":"abs(datum.value*10-round(datum.value*10))<0.001","value":6},"value":3}}},
  "fill":{"field":"s","type":"nominal","scale":{"domain":["bpr","rpr","bpi","rpi"],"range":["#0000ff","#ff0000","white","white"]},"legend":null},
  "stroke":{"field":"s","type":"nominal","scale":{"domain":["bpr","rpr","bpi","rpi"],"range":["#0000ff","#ff0000","#5050ff","#ff5050"]},"legend":null}}}
 ],"resolve":{"axis":{"x":"independent","y":"independent"}}},
{"width":192,"height":63,"data":{"values":[]},"mark":"point","encoding":{},"view":{"stroke":null}},
{"width":192,"height":63,"data":{"values":[]},"mark":"point","encoding":{},"view":{"stroke":null}},
{"width":192,"height":63,"data":{"values":[]},"mark":"point","encoding":{},"view":{"stroke":null}},
{"title":"2-phase EoS, b = 2 fm","width":192,"height":190,"transform":[{"filter":"datum.p==7"},{"fold":["bpi","rpi","bpr","rpr"],"as":["s","v"]}],"layer":[
 {"mark":{"type":"tick","orient":"horizontal","size":10,"thickness":1.5,"opacity":1},"encoding":{
  "x":{"field":"x","type":"quantitative","scale":{"domain":[-1.5,1.5],"nice":false,"zero":false},"axis":{"orient":"bottom","values":[-1.5,-1,-0.5,0,0.5,1,1.5],"format":"~g","ticks":false,"labelPadding":3,"title":"Y","titleFontSize":13,"titlePadding":0}},
  "y":{"field":"v","type":"quantitative","scale":{"domain":[-0.4,0.4],"nice":false,"zero":false},"axis":{"orient":"left","values":[-0.4,-0.3,-0.2,-0.1,0,0.1,0.2,0.3,0.4],"format":"~g","ticks":false,"labelPadding":3,"title":"V₁","titleFontSize":16,"titlePadding":-8}},
  "color":{"field":"s","type":"nominal","scale":{"domain":["bpr","rpr","bpi","rpi"],"range":["#0000ff","#ff0000","#5050ff","#ff5050"]},"legend":null}}},
 {"mark":{"type":"point","shape":"circle","size":34,"strokeWidth":1,"opacity":1},"encoding":{
  "x":{"field":"x","type":"quantitative","axis":{"orient":"top","offset":-190,"values":[-1.5,-1.4,-1.3,-1.2,-1.1,-1,-0.9,-0.8,-0.7,-0.6,-0.5,-0.4,-0.3,-0.2,-0.1,0,0.1,0.2,0.3,0.4,0.5,0.6,0.7,0.8,0.9,1,1.1,1.2,1.3,1.4,1.5],"labels":false,"domain":false,"title":null,"tickSize":{"condition":{"test":"abs(datum.value*2-round(datum.value*2))<0.001","value":6},"value":3}}},
  "y":{"field":"v","type":"quantitative","axis":{"orient":"right","offset":-192,"values":[-0.4,-0.38,-0.36,-0.34,-0.32,-0.3,-0.28,-0.26,-0.24,-0.22,-0.2,-0.18,-0.16,-0.14,-0.12,-0.1,-0.08,-0.06,-0.04,-0.02,0,0.02,0.04,0.06,0.08,0.1,0.12,0.14,0.16,0.18,0.2,0.22,0.24,0.26,0.28,0.3,0.32,0.34,0.36,0.38,0.4],"labels":false,"domain":false,"title":null,"tickSize":{"condition":{"test":"abs(datum.value*10-round(datum.value*10))<0.001","value":6},"value":3}}},
  "fill":{"field":"s","type":"nominal","scale":{"domain":["bpr","rpr","bpi","rpi"],"range":["#0000ff","#ff0000","white","white"]},"legend":{"orient":"top-left","title":null,"symbolType":"M-1,0L-0.42,0M0.42,0L1,0M-0.42,0A0.42,0.42,0,1,1,0.42,0A0.42,0.42,0,1,1,-0.42,0","symbolSize":196,"labelExpr":"datum.label=='bpr'?'THESEUS, proton':datum.label=='rpr'?'THESEUS w/o UrQMD, proton':datum.label=='bpi'?'THESEUS, pion':'THESEUS w/o UrQMD, pion'"}},
  "stroke":{"field":"s","type":"nominal","scale":{"domain":["bpr","rpr","bpi","rpi"],"range":["#0000ff","#ff0000","#5050ff","#ff5050"]},"legend":{"orient":"top-left","title":null,"symbolType":"M-1,0L-0.42,0M0.42,0L1,0M-0.42,0A0.42,0.42,0,1,1,0.42,0A0.42,0.42,0,1,1,-0.42,0","symbolSize":196,"labelExpr":"datum.label=='bpr'?'THESEUS, proton':datum.label=='rpr'?'THESEUS w/o UrQMD, proton':datum.label=='bpi'?'THESEUS, pion':'THESEUS w/o UrQMD, pion'"}}}}
 ],"resolve":{"axis":{"x":"independent","y":"independent"}}},
{"title":"2-phase EoS, b = 6 fm","width":192,"height":190,"transform":[{"filter":"datum.p==8"},{"fold":["bpi","rpi","bpr","rpr"],"as":["s","v"]}],"layer":[
 {"mark":{"type":"tick","orient":"horizontal","size":10,"thickness":1.5,"opacity":1},"encoding":{
  "x":{"field":"x","type":"quantitative","scale":{"domain":[-1.5,1.5],"nice":false,"zero":false},"axis":{"orient":"bottom","values":[-1.5,-1,-0.5,0,0.5,1,1.5],"format":"~g","ticks":false,"labelPadding":3,"title":"Y","titleFontSize":13,"titlePadding":0}},
  "y":{"field":"v","type":"quantitative","scale":{"domain":[-0.4,0.4],"nice":false,"zero":false},"axis":{"orient":"left","values":[-0.4,-0.3,-0.2,-0.1,0,0.1,0.2,0.3,0.4],"format":"~g","ticks":false,"labelPadding":3,"title":"V₁","titleFontSize":16,"titlePadding":-8}},
  "color":{"field":"s","type":"nominal","scale":{"domain":["bpr","rpr","bpi","rpi"],"range":["#0000ff","#ff0000","#5050ff","#ff5050"]},"legend":null}}},
 {"mark":{"type":"point","shape":"circle","size":34,"strokeWidth":1,"opacity":1},"encoding":{
  "x":{"field":"x","type":"quantitative","axis":{"orient":"top","offset":-190,"values":[-1.5,-1.4,-1.3,-1.2,-1.1,-1,-0.9,-0.8,-0.7,-0.6,-0.5,-0.4,-0.3,-0.2,-0.1,0,0.1,0.2,0.3,0.4,0.5,0.6,0.7,0.8,0.9,1,1.1,1.2,1.3,1.4,1.5],"labels":false,"domain":false,"title":null,"tickSize":{"condition":{"test":"abs(datum.value*2-round(datum.value*2))<0.001","value":6},"value":3}}},
  "y":{"field":"v","type":"quantitative","axis":{"orient":"right","offset":-192,"values":[-0.4,-0.38,-0.36,-0.34,-0.32,-0.3,-0.28,-0.26,-0.24,-0.22,-0.2,-0.18,-0.16,-0.14,-0.12,-0.1,-0.08,-0.06,-0.04,-0.02,0,0.02,0.04,0.06,0.08,0.1,0.12,0.14,0.16,0.18,0.2,0.22,0.24,0.26,0.28,0.3,0.32,0.34,0.36,0.38,0.4],"labels":false,"domain":false,"title":null,"tickSize":{"condition":{"test":"abs(datum.value*10-round(datum.value*10))<0.001","value":6},"value":3}}},
  "fill":{"field":"s","type":"nominal","scale":{"domain":["bpr","rpr","bpi","rpi"],"range":["#0000ff","#ff0000","white","white"]},"legend":null},
  "stroke":{"field":"s","type":"nominal","scale":{"domain":["bpr","rpr","bpi","rpi"],"range":["#0000ff","#ff0000","#5050ff","#ff5050"]},"legend":null}}}
 ],"resolve":{"axis":{"x":"independent","y":"independent"}}},
{"title":"2-phase EoS, b = 11 fm","width":192,"height":190,"transform":[{"filter":"datum.p==9"},{"fold":["bpi","rpi","bpr","rpr"],"as":["s","v"]}],"layer":[
 {"mark":{"type":"tick","orient":"horizontal","size":10,"thickness":1.5,"opacity":1},"encoding":{
  "x":{"field":"x","type":"quantitative","scale":{"domain":[-1.5,1.5],"nice":false,"zero":false},"axis":{"orient":"bottom","values":[-1.5,-1,-0.5,0,0.5,1,1.5],"format":"~g","ticks":false,"labelPadding":3,"title":"Y","titleFontSize":13,"titlePadding":0}},
  "y":{"field":"v","type":"quantitative","scale":{"domain":[-0.4,0.4],"nice":false,"zero":false},"axis":{"orient":"left","values":[-0.4,-0.3,-0.2,-0.1,0,0.1,0.2,0.3,0.4],"format":"~g","ticks":false,"labelPadding":3,"title":"V₁","titleFontSize":16,"titlePadding":-8}},
  "color":{"field":"s","type":"nominal","scale":{"domain":["bpr","rpr","bpi","rpi"],"range":["#0000ff","#ff0000","#5050ff","#ff5050"]},"legend":null}}},
 {"mark":{"type":"point","shape":"circle","size":34,"strokeWidth":1,"opacity":1},"encoding":{
  "x":{"field":"x","type":"quantitative","axis":{"orient":"top","offset":-190,"values":[-1.5,-1.4,-1.3,-1.2,-1.1,-1,-0.9,-0.8,-0.7,-0.6,-0.5,-0.4,-0.3,-0.2,-0.1,0,0.1,0.2,0.3,0.4,0.5,0.6,0.7,0.8,0.9,1,1.1,1.2,1.3,1.4,1.5],"labels":false,"domain":false,"title":null,"tickSize":{"condition":{"test":"abs(datum.value*2-round(datum.value*2))<0.001","value":6},"value":3}}},
  "y":{"field":"v","type":"quantitative","axis":{"orient":"right","offset":-192,"values":[-0.4,-0.38,-0.36,-0.34,-0.32,-0.3,-0.28,-0.26,-0.24,-0.22,-0.2,-0.18,-0.16,-0.14,-0.12,-0.1,-0.08,-0.06,-0.04,-0.02,0,0.02,0.04,0.06,0.08,0.1,0.12,0.14,0.16,0.18,0.2,0.22,0.24,0.26,0.28,0.3,0.32,0.34,0.36,0.38,0.4],"labels":false,"domain":false,"title":null,"tickSize":{"condition":{"test":"abs(datum.value*10-round(datum.value*10))<0.001","value":6},"value":3}}},
  "fill":{"field":"s","type":"nominal","scale":{"domain":["bpr","rpr","bpi","rpi"],"range":["#0000ff","#ff0000","white","white"]},"legend":null},
  "stroke":{"field":"s","type":"nominal","scale":{"domain":["bpr","rpr","bpi","rpi"],"range":["#0000ff","#ff0000","#5050ff","#ff5050"]},"legend":null}}}
 ],"resolve":{"axis":{"x":"independent","y":"independent"}}},
{"title":"crossover EoS, b = 2 fm","width":192,"height":190,"transform":[{"filter":"datum.p==10"},{"fold":["bpi","rpi","bpr","rpr"],"as":["s","v"]}],"layer":[
 {"mark":{"type":"tick","orient":"horizontal","size":10,"thickness":1.5,"opacity":1},"encoding":{
  "x":{"field":"x","type":"quantitative","scale":{"domain":[-1.5,1.5],"nice":false,"zero":false},"axis":{"orient":"bottom","values":[-1.5,-1,-0.5,0,0.5,1,1.5],"format":"~g","ticks":false,"labelPadding":3,"title":"Y","titleFontSize":13,"titlePadding":0}},
  "y":{"field":"v","type":"quantitative","scale":{"domain":[-0.4,0.4],"nice":false,"zero":false},"axis":{"orient":"left","values":[-0.4,-0.3,-0.2,-0.1,0,0.1,0.2,0.3,0.4],"format":"~g","ticks":false,"labelPadding":3,"title":"V₁","titleFontSize":16,"titlePadding":-8}},
  "color":{"field":"s","type":"nominal","scale":{"domain":["bpr","rpr","bpi","rpi"],"range":["#0000ff","#ff0000","#5050ff","#ff5050"]},"legend":null}}},
 {"mark":{"type":"point","shape":"circle","size":34,"strokeWidth":1,"opacity":1},"encoding":{
  "x":{"field":"x","type":"quantitative","axis":{"orient":"top","offset":-190,"values":[-1.5,-1.4,-1.3,-1.2,-1.1,-1,-0.9,-0.8,-0.7,-0.6,-0.5,-0.4,-0.3,-0.2,-0.1,0,0.1,0.2,0.3,0.4,0.5,0.6,0.7,0.8,0.9,1,1.1,1.2,1.3,1.4,1.5],"labels":false,"domain":false,"title":null,"tickSize":{"condition":{"test":"abs(datum.value*2-round(datum.value*2))<0.001","value":6},"value":3}}},
  "y":{"field":"v","type":"quantitative","axis":{"orient":"right","offset":-192,"values":[-0.4,-0.38,-0.36,-0.34,-0.32,-0.3,-0.28,-0.26,-0.24,-0.22,-0.2,-0.18,-0.16,-0.14,-0.12,-0.1,-0.08,-0.06,-0.04,-0.02,0,0.02,0.04,0.06,0.08,0.1,0.12,0.14,0.16,0.18,0.2,0.22,0.24,0.26,0.28,0.3,0.32,0.34,0.36,0.38,0.4],"labels":false,"domain":false,"title":null,"tickSize":{"condition":{"test":"abs(datum.value*10-round(datum.value*10))<0.001","value":6},"value":3}}},
  "fill":{"field":"s","type":"nominal","scale":{"domain":["bpr","rpr","bpi","rpi"],"range":["#0000ff","#ff0000","white","white"]},"legend":null},
  "stroke":{"field":"s","type":"nominal","scale":{"domain":["bpr","rpr","bpi","rpi"],"range":["#0000ff","#ff0000","#5050ff","#ff5050"]},"legend":null}}}
 ],"resolve":{"axis":{"x":"independent","y":"independent"}}},
{"title":"crossover EoS, b = 6 fm","width":192,"height":190,"transform":[{"filter":"datum.p==11"},{"fold":["bpi","rpi","bpr","rpr"],"as":["s","v"]}],"layer":[
 {"mark":{"type":"tick","orient":"horizontal","size":10,"thickness":1.5,"opacity":1},"encoding":{
  "x":{"field":"x","type":"quantitative","scale":{"domain":[-1.5,1.5],"nice":false,"zero":false},"axis":{"orient":"bottom","values":[-1.5,-1,-0.5,0,0.5,1,1.5],"format":"~g","ticks":false,"labelPadding":3,"title":"Y","titleFontSize":13,"titlePadding":0}},
  "y":{"field":"v","type":"quantitative","scale":{"domain":[-0.4,0.4],"nice":false,"zero":false},"axis":{"orient":"left","values":[-0.4,-0.3,-0.2,-0.1,0,0.1,0.2,0.3,0.4],"format":"~g","ticks":false,"labelPadding":3,"title":"V₁","titleFontSize":16,"titlePadding":-8}},
  "color":{"field":"s","type":"nominal","scale":{"domain":["bpr","rpr","bpi","rpi"],"range":["#0000ff","#ff0000","#5050ff","#ff5050"]},"legend":null}}},
 {"mark":{"type":"point","shape":"circle","size":34,"strokeWidth":1,"opacity":1},"encoding":{
  "x":{"field":"x","type":"quantitative","axis":{"orient":"top","offset":-190,"values":[-1.5,-1.4,-1.3,-1.2,-1.1,-1,-0.9,-0.8,-0.7,-0.6,-0.5,-0.4,-0.3,-0.2,-0.1,0,0.1,0.2,0.3,0.4,0.5,0.6,0.7,0.8,0.9,1,1.1,1.2,1.3,1.4,1.5],"labels":false,"domain":false,"title":null,"tickSize":{"condition":{"test":"abs(datum.value*2-round(datum.value*2))<0.001","value":6},"value":3}}},
  "y":{"field":"v","type":"quantitative","axis":{"orient":"right","offset":-192,"values":[-0.4,-0.38,-0.36,-0.34,-0.32,-0.3,-0.28,-0.26,-0.24,-0.22,-0.2,-0.18,-0.16,-0.14,-0.12,-0.1,-0.08,-0.06,-0.04,-0.02,0,0.02,0.04,0.06,0.08,0.1,0.12,0.14,0.16,0.18,0.2,0.22,0.24,0.26,0.28,0.3,0.32,0.34,0.36,0.38,0.4],"labels":false,"domain":false,"title":null,"tickSize":{"condition":{"test":"abs(datum.value*10-round(datum.value*10))<0.001","value":6},"value":3}}},
  "fill":{"field":"s","type":"nominal","scale":{"domain":["bpr","rpr","bpi","rpi"],"range":["#0000ff","#ff0000","white","white"]},"legend":null},
  "stroke":{"field":"s","type":"nominal","scale":{"domain":["bpr","rpr","bpi","rpi"],"range":["#0000ff","#ff0000","#5050ff","#ff5050"]},"legend":null}}}
 ],"resolve":{"axis":{"x":"independent","y":"independent"}}},
{"title":"crossover EoS, b = 11 fm","width":192,"height":190,"transform":[{"filter":"datum.p==12"},{"fold":["bpi","rpi","bpr","rpr"],"as":["s","v"]}],"layer":[
 {"mark":{"type":"tick","orient":"horizontal","size":10,"thickness":1.5,"opacity":1},"encoding":{
  "x":{"field":"x","type":"quantitative","scale":{"domain":[-1.5,1.5],"nice":false,"zero":false},"axis":{"orient":"bottom","values":[-1.5,-1,-0.5,0,0.5,1,1.5],"format":"~g","ticks":false,"labelPadding":3,"title":"Y","titleFontSize":13,"titlePadding":0}},
  "y":{"field":"v","type":"quantitative","scale":{"domain":[-0.4,0.4],"nice":false,"zero":false},"axis":{"orient":"left","values":[-0.4,-0.3,-0.2,-0.1,0,0.1,0.2,0.3,0.4],"format":"~g","ticks":false,"labelPadding":3,"title":"V₁","titleFontSize":16,"titlePadding":-8}},
  "color":{"field":"s","type":"nominal","scale":{"domain":["bpr","rpr","bpi","rpi"],"range":["#0000ff","#ff0000","#5050ff","#ff5050"]},"legend":null}}},
 {"mark":{"type":"point","shape":"circle","size":34,"strokeWidth":1,"opacity":1},"encoding":{
  "x":{"field":"x","type":"quantitative","axis":{"orient":"top","offset":-190,"values":[-1.5,-1.4,-1.3,-1.2,-1.1,-1,-0.9,-0.8,-0.7,-0.6,-0.5,-0.4,-0.3,-0.2,-0.1,0,0.1,0.2,0.3,0.4,0.5,0.6,0.7,0.8,0.9,1,1.1,1.2,1.3,1.4,1.5],"labels":false,"domain":false,"title":null,"tickSize":{"condition":{"test":"abs(datum.value*2-round(datum.value*2))<0.001","value":6},"value":3}}},
  "y":{"field":"v","type":"quantitative","axis":{"orient":"right","offset":-192,"values":[-0.4,-0.38,-0.36,-0.34,-0.32,-0.3,-0.28,-0.26,-0.24,-0.22,-0.2,-0.18,-0.16,-0.14,-0.12,-0.1,-0.08,-0.06,-0.04,-0.02,0,0.02,0.04,0.06,0.08,0.1,0.12,0.14,0.16,0.18,0.2,0.22,0.24,0.26,0.28,0.3,0.32,0.34,0.36,0.38,0.4],"labels":false,"domain":false,"title":null,"tickSize":{"condition":{"test":"abs(datum.value*10-round(datum.value*10))<0.001","value":6},"value":3}}},
  "fill":{"field":"s","type":"nominal","scale":{"domain":["bpr","rpr","bpi","rpi"],"range":["#0000ff","#ff0000","white","white"]},"legend":null},
  "stroke":{"field":"s","type":"nominal","scale":{"domain":["bpr","rpr","bpi","rpi"],"range":["#0000ff","#ff0000","#5050ff","#ff5050"]},"legend":null}}}
 ],"resolve":{"axis":{"x":"independent","y":"independent"}}}
]
}
